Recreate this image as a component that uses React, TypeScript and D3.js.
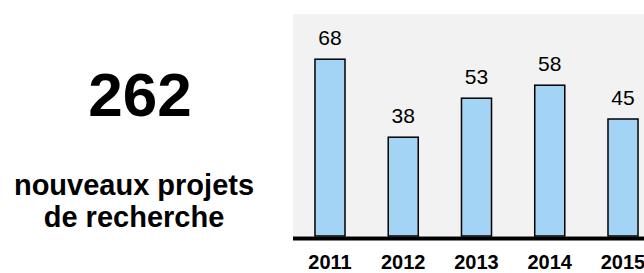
import React from "react";
import * as d3 from "d3";

const years = ["2011", "2012", "2013", "2014", "2015"];
const values = [68, 38, 53, 58, 45];
const totalLabel = "262";
const captionLines = ["nouveaux projets", "de recherche"];

const W = 644;
const H = 273;
const FONT = "Arial, 'Liberation Sans', sans-serif";

export default function App() {
  const x = d3
    .scaleBand<string>()
    .domain(years)
    .range([293, 660])
    .paddingInner(0.59)
    .paddingOuter(0.3);
  const y = d3.scaleLinear().domain([0, 80]).range([236, 28]);

  return (
    <svg
      width={W}
      height={H}
      style={{ position: "absolute", left: 0, top: 0, display: "block" }}
      fontFamily={FONT}
    >
      <rect x={0} y={0} width={W} height={H} fill="#ffffff" />
      <rect x={293} y={14} width={W - 293} height={236 - 14} fill="#f2f2f2" />
      {years.map((yr, i) => (
        <g key={yr}>
          <rect
            x={x(yr)!}
            y={y(values[i])}
            width={x.bandwidth()}
            height={y(0) - y(values[i])}
            fill="#a3d4f5"
            stroke="#000"
            strokeWidth={1.5}
          />
          <text
            x={x(yr)! + x.bandwidth() / 2}
            y={y(values[i]) - 14}
            textAnchor="middle"
            fontSize={21}
            fill="#000"
          >
            {values[i]}
          </text>
          <text
            x={x(yr)! + x.bandwidth() / 2}
            y={269}
            textAnchor="middle"
            fontSize={20}
            fontWeight="bold"
            fill="#000"
          >
            {yr}
          </text>
        </g>
      ))}
      <line x1={293} x2={W} y1={238.5} y2={238.5} stroke="#000" strokeWidth={4} />
      <text x={140} y={116} textAnchor="middle" fontSize={62} fontWeight="bold" fill="#000">
        {totalLabel}
      </text>
      {captionLines.map((l, i) => (
        <text
          key={l}
          x={134}
          y={195 + i * 32}
          textAnchor="middle"
          fontSize={29}
          fontWeight="bold"
          fill="#000"
        >
          {l}
        </text>
      ))}
    </svg>
  );
}
